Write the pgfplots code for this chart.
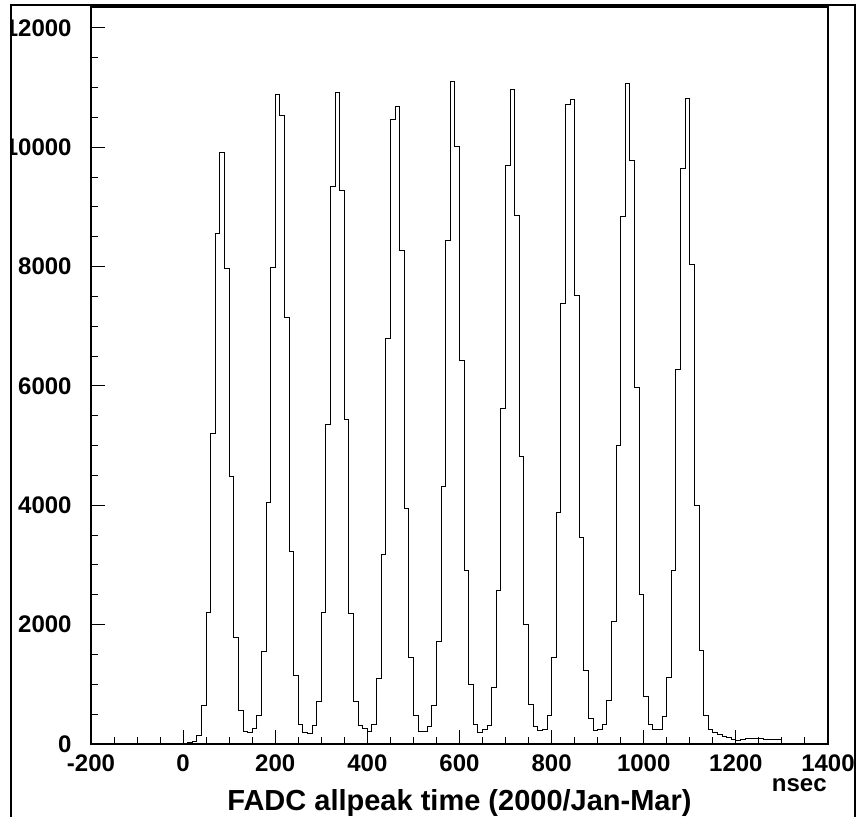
\documentclass[border=0pt]{standalone}
\usepackage{fontspec}
\setmainfont{Liberation Sans}
\usepackage{pgfplots}
\pgfplotsset{compat=1.18}
\begin{document}
\begin{tikzpicture}
\begin{axis}[
  scale only axis, width=368.5pt, height=368.5pt,
  at={(0,0)}, anchor=south west,
  xmin=-200, xmax=1400, ymin=0, ymax=12350,
  axis line style={line width=0.6pt},
  tick align=inside, xtick pos=bottom, ytick pos=left,
  xtick={-200,0,200,400,600,800,1000,1200,1400},
  xticklabels={-200,0,200,400,600,800,1000,1200,1400},
  ytick={0,2000,4000,6000,8000,10000,12000},
  yticklabels={0,2000,4000,6000,8000,10000,12000},
  scaled ticks=false,
  minor x tick num=3, minor y tick num=3,
  major tick length=7pt, minor tick length=3.7pt,
  tick style={black, line width=0.5pt},
  ticklabel style={font=\bfseries\fontsize{12}{13}\selectfont},
  xticklabel style={anchor=north, inner sep=0pt, yshift=-5.3pt},
  yticklabel style={anchor=east, inner sep=0pt, xshift=-9.5pt},
]
\addplot[const plot, black, line width=0.5pt] coordinates {
(-200,0) (0,10) (10,20) (20,40) (30,150) (40,650) (50,2210) (60,5200) (70,8550) (80,9915) (90,7965)
(100,4480) (110,1780) (120,555) (130,206) (140,190) (150,268) (160,474) (170,1547) (180,4050) (190,7980)
(200,10880) (210,10525) (220,7150) (230,3220) (240,1145) (250,335) (260,190) (270,175) (280,318) (290,720)
(300,2210) (310,5350) (320,9340) (330,10920) (340,9268) (350,5440) (360,2190) (370,710) (380,318) (390,262)
(400,206) (410,335) (420,1100) (430,3180) (440,6800) (450,10470) (460,10676) (470,8262) (480,3952) (490,1450)
(500,475) (510,206) (520,206) (530,290) (540,642) (550,1720) (560,4317) (570,8440) (580,11105) (590,10010)
(600,6420) (610,2900) (620,1000) (630,335) (640,196) (650,235) (660,318) (670,950) (680,2580) (690,5624)
(700,9692) (710,10970) (720,8855) (730,4811) (740,2000) (750,654) (760,290) (770,218) (780,250) (790,486)
(800,1450) (810,3876) (820,7380) (830,10710) (840,10793) (850,7520) (860,3458) (870,1230) (880,430) (890,218)
(900,235) (910,335) (920,726) (930,2050) (940,5000) (950,8840) (960,11060) (970,9776) (980,5966) (990,2500)
(1000,793) (1010,335) (1020,235) (1030,246) (1040,458) (1050,1120) (1060,2900) (1070,6270) (1080,9636) (1090,10810)
(1100,8040) (1110,4005) (1120,1575) (1130,486) (1140,246) (1150,190) (1160,162) (1170,134) (1180,106) (1190,78)
(1200,65) (1210,70) (1220,85) (1230,90) (1240,88) (1250,85) (1260,80) (1270,78) (1280,80) (1290,80)
(1300,0) (1400,0)
};
\end{axis}
\node[anchor=base east, inner sep=0pt, font=\bfseries\fontsize{12}{13}\selectfont] at (368pt,-23.5pt) {nsec};
\node[anchor=base, inner sep=0pt, font=\bfseries\fontsize{14.5}{16}\selectfont] at (184.25pt,-33pt) {FADC allpeak time (2000/Jan-Mar)};
\fill[white] (-46pt,-37pt) rectangle (-40pt,373pt);
\draw[line width=0.6pt] (-40pt,-40pt) -- (-40pt,369.5pt) -- (382pt,369.5pt) -- (382pt,-40pt);
\pgfresetboundingbox
\useasboundingbox (-45.5pt,-36pt) rectangle (382.5pt,372pt);
\end{tikzpicture}
\end{document}
